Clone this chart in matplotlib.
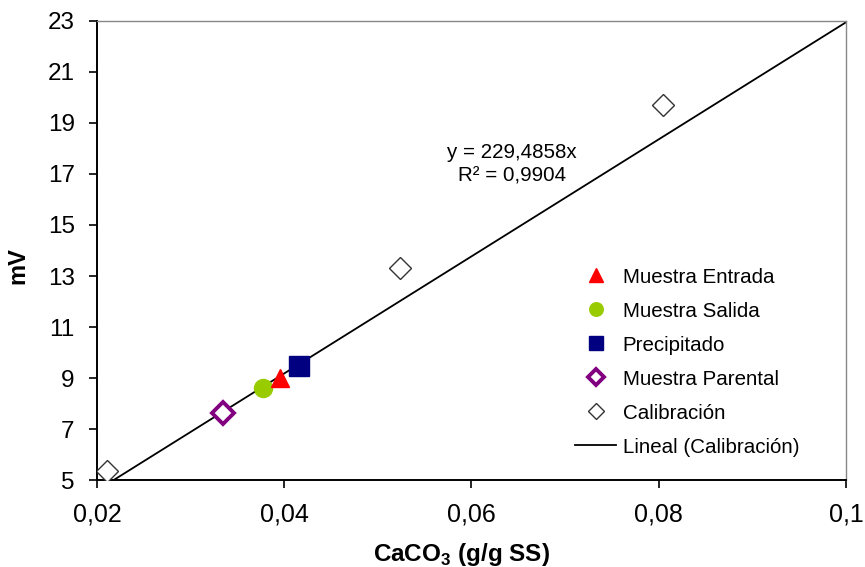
import numpy as np
import matplotlib
matplotlib.use("Agg")
import matplotlib.pyplot as plt

plt.rcParams['font.family'] = ['Liberation Sans', 'DejaVu Sans']
plt.rcParams['mathtext.fontset'] = 'custom'
plt.rcParams['mathtext.rm'] = 'Liberation Sans'
plt.rcParams['mathtext.bf'] = 'Liberation Sans:bold'

# Datos
cal_x = [0.0211, 0.0524, 0.0805]
cal_y = [5.35, 13.31, 19.71]
entrada_x = [0.0396]
entrada_y = [9.0]
salida_x = [0.0377]
salida_y = [8.61]
precip_x = [0.0416]
precip_y = [9.47]
parental_x = [0.0335]
parental_y = [7.63]
pendiente = 229.4858
r2 = 0.9904

x_ticks = [0.02, 0.04, 0.06, 0.08, 0.1]
x_labels = ['0,02', '0,04', '0,06', '0,08', '0,1']
y_ticks = [5, 7, 9, 11, 13, 15, 17, 19, 21, 23]

fig = plt.figure(figsize=(8.65, 5.67), dpi=100)
ax = fig.add_axes([0.1121, 0.1534, 0.8659, 0.8096])

ax.plot(entrada_x, entrada_y, '^', color='#ff0000', ms=13, mec='#ff0000', label='Muestra Entrada', zorder=4)
ax.plot(salida_x, salida_y, 'o', color='#99cc00', ms=13, mec='#99cc00', label='Muestra Salida', zorder=3)
ax.plot(precip_x, precip_y, 's', color='#000080', ms=14, mec='#000080', label='Precipitado', zorder=4)
ax.plot(parental_x, parental_y, 'D', mfc='white', mec='#800080', mew=2.8, ms=11, label='Muestra Parental', zorder=4)
ax.plot(cal_x, cal_y, 'D', mfc='white', mec='#333333', mew=1.0, ms=11, label='Calibración', zorder=4)

xf = np.array([0.0, 0.1])
ax.plot(xf, pendiente * xf, color='black', lw=1.3, label='Lineal (Calibración)', zorder=2)

ax.text(0.0643, 17.4, 'y = 229,4858x\nR² = 0,9904', ha='center', va='center',
        fontsize=14.8, linespacing=1.3)

ax.set_xlim(0.02, 0.1)
ax.set_ylim(5, 23)
ax.set_xticks(x_ticks)
ax.set_xticklabels(x_labels)
ax.set_yticks(y_ticks)
ax.tick_params(axis='y', labelsize=17.5, direction='out', length=6, width=1.2, pad=10)
ax.tick_params(axis='x', labelsize=18, direction='out', length=6, width=1.2, pad=10)
for s in ['left', 'bottom']:
    ax.spines[s].set_linewidth(1.4)
    ax.spines[s].set_color('black')
for s in ['top', 'right']:
    ax.spines[s].set_linewidth(1.0)
    ax.spines[s].set_color('#888888')

ax.set_xlabel('CaCO$_\\mathbf{3}$ (g/g SS)', fontsize=17.5, fontweight='bold')
ax.set_ylabel('mV', fontsize=17, fontweight='bold')
ax.xaxis.set_label_coords(0.487, -0.132)
ax.yaxis.set_label_coords(-0.09, 0.467)

leg = ax.legend(loc='upper left', bbox_to_anchor=(0.614, 0.503), frameon=False,
                fontsize=14.8, markerscale=0.75, handlelength=2.0, handletextpad=0.3,
                labelspacing=0.73, numpoints=1)

fig.savefig('out.png', dpi=100)
